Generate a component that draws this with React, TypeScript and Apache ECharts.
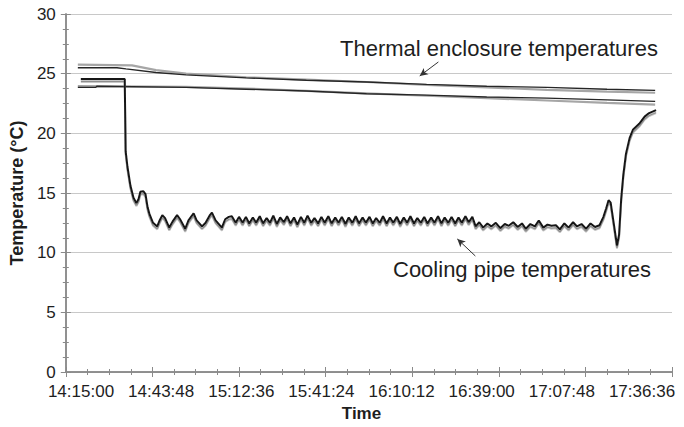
import React, { useEffect, useRef } from "react";
import * as echarts from "echarts";

// x values are minutes after 14:15:00
const xTickLabelsStart = "14:15:00";
const xMax = 201.6; // 17:36:36
const xInterval = 28.8; // 28:48
const yMax = 30;
const yInterval = 5;

const enclosureTopGray: [number, number][] = [
  [4.0, 25.75], [22, 25.7], [30, 25.3], [40, 25.0], [60, 24.7], [80, 24.5], [100, 24.3],
  [120, 24.05], [140, 23.85], [160, 23.65], [180, 23.5], [196, 23.4],
];
const enclosureBottomGray: [number, number][] = [
  [4.0, 23.95], [40, 23.9], [60, 23.75], [80, 23.55], [100, 23.35], [120, 23.15],
  [140, 22.95], [160, 22.75], [180, 22.55], [196, 22.4],
];
const enclosureTopBlack: [number, number][] = [
  [4.0, 25.5], [17, 25.5], [20, 25.4], [30, 25.1], [40, 24.9], [60, 24.65], [80, 24.45],
  [100, 24.3], [120, 24.1], [140, 23.95], [160, 23.85], [180, 23.7], [196, 23.6],
];
const enclosureBottomBlack: [number, number][] = [
  [4.0, 23.85], [10, 23.85], [10.3, 23.95], [40, 23.85], [60, 23.7], [80, 23.55],
  [100, 23.32], [120, 23.2], [140, 23.05], [160, 22.95], [180, 22.8], [196, 22.68],
];
const coolingPipe: [number, number][] = [
  [5.0, 24.55], [19.6, 24.55], [19.9, 18.5], [20.5, 17.2], [21.5, 15.6], [22.5, 14.6],
  [23.5, 14.15], [24.2, 14.5], [24.8, 15.1], [25.8, 15.15], [26.5, 14.9], [27.2, 13.8],
  [27.8, 13.25], [29.0, 12.5], [30.4, 12.2], [31.2, 12.7], [32.1, 13.15], [33.0, 12.9],
  [34.4, 12.1], [35.5, 12.6], [37.0, 13.15], [38.0, 12.8], [39.7, 12.0], [40.8, 12.7],
  [42.5, 13.3], [43.5, 12.7], [45.3, 12.2], [46.5, 12.5], [47.8, 13.1], [48.6, 13.35],
  [49.8, 12.7], [51.9, 12.1], [53.0, 12.8], [54.2, 13.0], [55.2, 13.05],
  [56.5, 12.5], [57.6, 13.0], [58.8, 12.5], [59.9, 13.0], [61.0, 12.45], [62.2, 12.95],
  [63.3, 12.5], [64.5, 13.05], [65.6, 12.45], [66.8, 12.9], [67.9, 12.5], [69.0, 13.1],
  [70.2, 12.4], [71.3, 12.95], [72.5, 12.55], [73.6, 13.05], [74.7, 12.45], [75.9, 12.95],
  [77.0, 12.35], [78.2, 13.0], [79.3, 12.5], [80.4, 13.1], [81.6, 12.5], [82.7, 12.9],
  [83.9, 12.45], [85.0, 13.0], [86.1, 12.5], [87.3, 13.05], [88.4, 12.45], [89.6, 12.95],
  [90.7, 12.5], [91.8, 13.0], [93.0, 12.4], [94.1, 12.95], [95.3, 12.5], [96.4, 13.05],
  [97.5, 12.45], [98.7, 12.95], [99.8, 12.5], [101.0, 13.0], [102.1, 12.45], [103.2, 12.9],
  [104.4, 12.5], [105.5, 13.05], [106.7, 12.45], [107.8, 12.95], [108.9, 12.5], [110.1, 13.0],
  [111.2, 12.4], [112.4, 12.95], [113.5, 12.5], [114.6, 13.05], [115.8, 12.45], [116.9, 12.9],
  [118.1, 12.5], [119.2, 13.0], [120.3, 12.45], [121.5, 12.95], [122.6, 12.5], [123.8, 13.05],
  [124.9, 12.45], [126.0, 12.95], [127.2, 12.5], [128.3, 13.0], [129.5, 12.45], [130.6, 12.95],
  [131.7, 12.5], [132.9, 13.05], [134.0, 12.55], [135.2, 13.0],
  [136.3, 12.2], [137.5, 12.55], [138.8, 12.1], [140.2, 12.45], [141.5, 12.2], [143.0, 12.5],
  [144.5, 12.05], [146.0, 12.4], [147.3, 12.25], [148.8, 12.55], [150.3, 12.15], [151.7, 12.45],
  [153.0, 12.0], [154.5, 12.4], [156.0, 12.2], [157.3, 12.7], [158.8, 12.1], [160.2, 12.35],
  [161.5, 12.25], [163.0, 12.3], [164.3, 11.95], [165.8, 12.45], [167.2, 12.1], [168.7, 12.55],
  [170.0, 12.2], [171.5, 12.4], [173.0, 12.0], [174.5, 12.45], [176.0, 12.15], [177.5, 12.3],
  [178.8, 13.0], [179.7, 13.7], [180.5, 14.4], [181.2, 14.2], [182.2, 12.5], [183.3, 10.6],
  [184.0, 11.5], [184.7, 14.5], [185.4, 16.5], [186.3, 18.3], [187.5, 19.6], [188.6, 20.3],
  [190.7, 20.8], [192.5, 21.4], [194.0, 21.7], [196.3, 21.95],
];
const thermalArrow: [number, number][] = [[123.9, 25.98], [117.7, 24.81]];
const coolingArrow: [number, number][] = [[136.2, 9.72], [130.2, 11.15]];
const thermalLabel = "Thermal enclosure temperatures";
const coolingLabel = "Cooling pipe temperatures";
const xTitle = "Time";
const yTitle = "Temperature (°C)";

const FONT = "'Liberation Sans', Arial, sans-serif";
const AXIS_COLOR = "#8a8a8a";
const TEXT_COLOR = "#1e1e1e";

function fmtTime(v: number): string {
  const [h0, m0, s0] = xTickLabelsStart.split(":").map(Number);
  const total = h0 * 3600 + m0 * 60 + s0 + Math.round(v * 60);
  const h = Math.floor(total / 3600);
  const m = Math.floor((total % 3600) / 60);
  const s = total % 60;
  const p = (n: number) => String(n).padStart(2, "0");
  return `${h}:${p(m)}:${p(s)}`;
}

export default function App() {
  const ref = useRef<HTMLDivElement>(null);
  useEffect(() => {
    if (!ref.current) return;
    const chart = echarts.init(ref.current, undefined, { renderer: "svg" });
    const tickCommon = {
      axisTick: { show: true, inside: true, length: 5, lineStyle: { color: AXIS_COLOR } },
      minorTick: { show: true, splitNumber: 4, length: 3, lineStyle: { color: AXIS_COLOR } },
      axisLine: { show: true, lineStyle: { color: AXIS_COLOR, width: 1.5 } },
    };
    const lineSeries = (data: [number, number][], color: string, width: number, z: number, extra: any = {}) => ({
      type: "line",
      data,
      xAxisIndex: 0,
      yAxisIndex: 0,
      showSymbol: false,
      symbol: "none",
      z,
      lineStyle: { color, width, ...extra },
      silent: true,
    });
    const arrow = (pts: [number, number][]) => [
      { coord: pts[0], symbol: "none" },
      { coord: pts[1], symbol: "arrow", symbolSize: [6, 8] },
    ];
    chart.setOption({
      animation: false,
      backgroundColor: "#ffffff",
      textStyle: { fontFamily: FONT },
      grid: [
        { left: 63, right: 12, top: 14, bottom: 55 },
        { left: 81, right: 42, top: 14, bottom: 55 },
      ],
      xAxis: [
        {
          type: "value", gridIndex: 0, min: 0, max: xMax, interval: xInterval, position: "bottom",
          axisLabel: { show: false }, splitLine: { show: false }, ...tickCommon,
        },
        {
          type: "value", gridIndex: 0, min: 0, max: xMax, interval: xInterval, position: "top",
          axisLabel: { show: false }, splitLine: { show: false }, ...tickCommon,
        },
        {
          type: "value", gridIndex: 1, min: 0, max: xMax, interval: xInterval, position: "bottom",
          axisLine: { show: false }, axisTick: { show: false }, splitLine: { show: false },
          axisLabel: {
            show: true, margin: 11, fontSize: 17, color: TEXT_COLOR, fontFamily: FONT,
            showMinLabel: true, showMaxLabel: true,
            formatter: (v: number) => fmtTime(v),
          },
          name: xTitle, nameLocation: "middle", nameGap: 30,
          nameTextStyle: { fontSize: 17, fontWeight: "bold", color: TEXT_COLOR, fontFamily: FONT },
        },
      ],
      yAxis: [
        {
          type: "value", gridIndex: 0, min: 0, max: yMax, interval: yInterval, position: "left",
          axisLabel: { show: true, margin: 10, fontSize: 17, color: TEXT_COLOR, fontFamily: FONT },
          splitLine: { show: true, lineStyle: { color: "#c8c8c8", width: 1 } },
          name: yTitle, nameLocation: "middle", nameGap: 37, nameRotate: 90,
          nameTextStyle: { fontSize: 18, fontWeight: "bold", color: TEXT_COLOR, fontFamily: FONT },
          ...tickCommon,
        },
        {
          type: "value", gridIndex: 0, min: 0, max: yMax, interval: yInterval, position: "right",
          axisLabel: { show: false }, splitLine: { show: false }, ...tickCommon,
        },
        { type: "value", gridIndex: 1, min: 0, max: yMax, show: false },
      ],
      series: [
        lineSeries(enclosureTopGray, "#a6a6a6", 2.2, 2),
        lineSeries(enclosureBottomGray, "#a6a6a6", 2.2, 2),
        lineSeries(enclosureTopBlack, "#262626", 1.4, 3),
        lineSeries(enclosureBottomBlack, "#262626", 1.4, 3),
        {
          ...lineSeries(coolingPipe, "#141414", 2, 4, {
            shadowColor: "rgba(130,130,130,0.9)", shadowBlur: 0, shadowOffsetX: 0, shadowOffsetY: 2.5,
          }),
          markLine: {
            silent: true,
            animation: false,
            label: { show: false },
            lineStyle: { color: "#333333", width: 1, type: "solid" },
            data: [arrow(thermalArrow), arrow(coolingArrow)],
          },
        },
      ],
      graphic: [
        {
          type: "text", x: 340, y: 48, z: 10,
          style: { text: thermalLabel, fontSize: 22, fontFamily: FONT, fill: TEXT_COLOR, align: "left", verticalAlign: "middle" },
        },
        {
          type: "text", x: 393, y: 269, z: 10,
          style: { text: coolingLabel, fontSize: 22, fontFamily: FONT, fill: TEXT_COLOR, align: "left", verticalAlign: "middle" },
        },
      ],
    });
    return () => chart.dispose();
  }, []);
  return <div ref={ref} style={{ width: 684, height: 427, margin: -8 }} />;
}
